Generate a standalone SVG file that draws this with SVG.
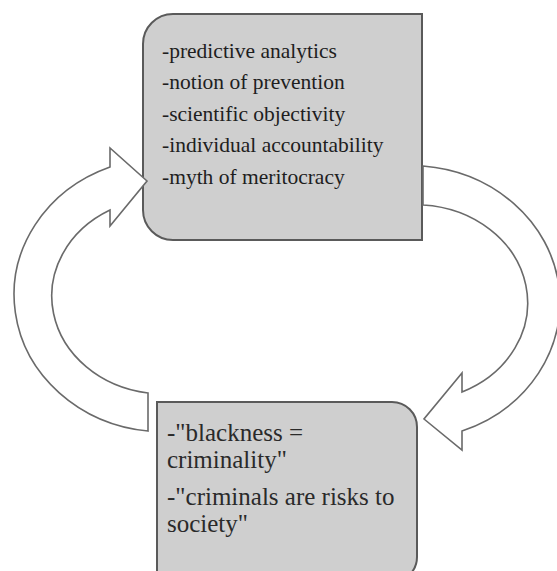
<svg xmlns="http://www.w3.org/2000/svg" width="557" height="571" viewBox="0 0 557 571">
<style>
.box{fill:#cfcfcf;stroke:#5a5a5a;stroke-width:2}
.arrow{fill:#ffffff;stroke:#6a6a6a;stroke-width:1.6;stroke-linejoin:miter}
.t1{font-size:21.5px;fill:#1e1e1e}
.t2{font-size:25px;fill:#2a2a2a}
</style>
<rect width="557" height="571" fill="#ffffff"/>
<g id="node-top" font-family="Liberation Serif, DejaVu Serif, serif">
<path class="box" d="M173,14 L422,14 L422,240 L173,240 A30,30 0 0 1 143,210 L143,44 A30,30 0 0 1 173,14 Z"/>
<text class="t1" x="162" y="57.5">-predictive analytics</text>
<text class="t1" x="162" y="89">-notion of prevention</text>
<text class="t1" x="162" y="120.5">-scientific objectivity</text>
<text class="t1" x="162" y="152">-individual accountability</text>
<text class="t1" x="162" y="183.5">-myth of meritocracy</text>
</g>
<g id="node-bottom" font-family="Liberation Serif, DejaVu Serif, serif">
<path class="box" d="M157,402 L392,402 A25,25 0 0 1 417,427 L417,557 A25,25 0 0 1 392,582 L157,582 Z"/>
<text class="t2" x="167" y="441">-"blackness =</text>
<text class="t2" x="167" y="468">criminality"</text>
<text class="t2" x="167" y="505">-"criminals are risks to</text>
<text class="t2" x="167" y="532">society"</text>
</g>
<g id="connectors">
<path id="arrow-left" class="arrow" d="M148,393 L148,431 A150,137 0 0 1 110,167 L110,148 L147,181 L110,226 L110,210 A112,98 0 0 0 148,393 Z"/>
<path id="arrow-right" class="arrow" d="M423,166 A150,137 0 0 1 462,431 L462,450 L424,419 L462,373 L462,392 A112,98 0 0 0 423,205 Z"/>
</g>
</svg>
